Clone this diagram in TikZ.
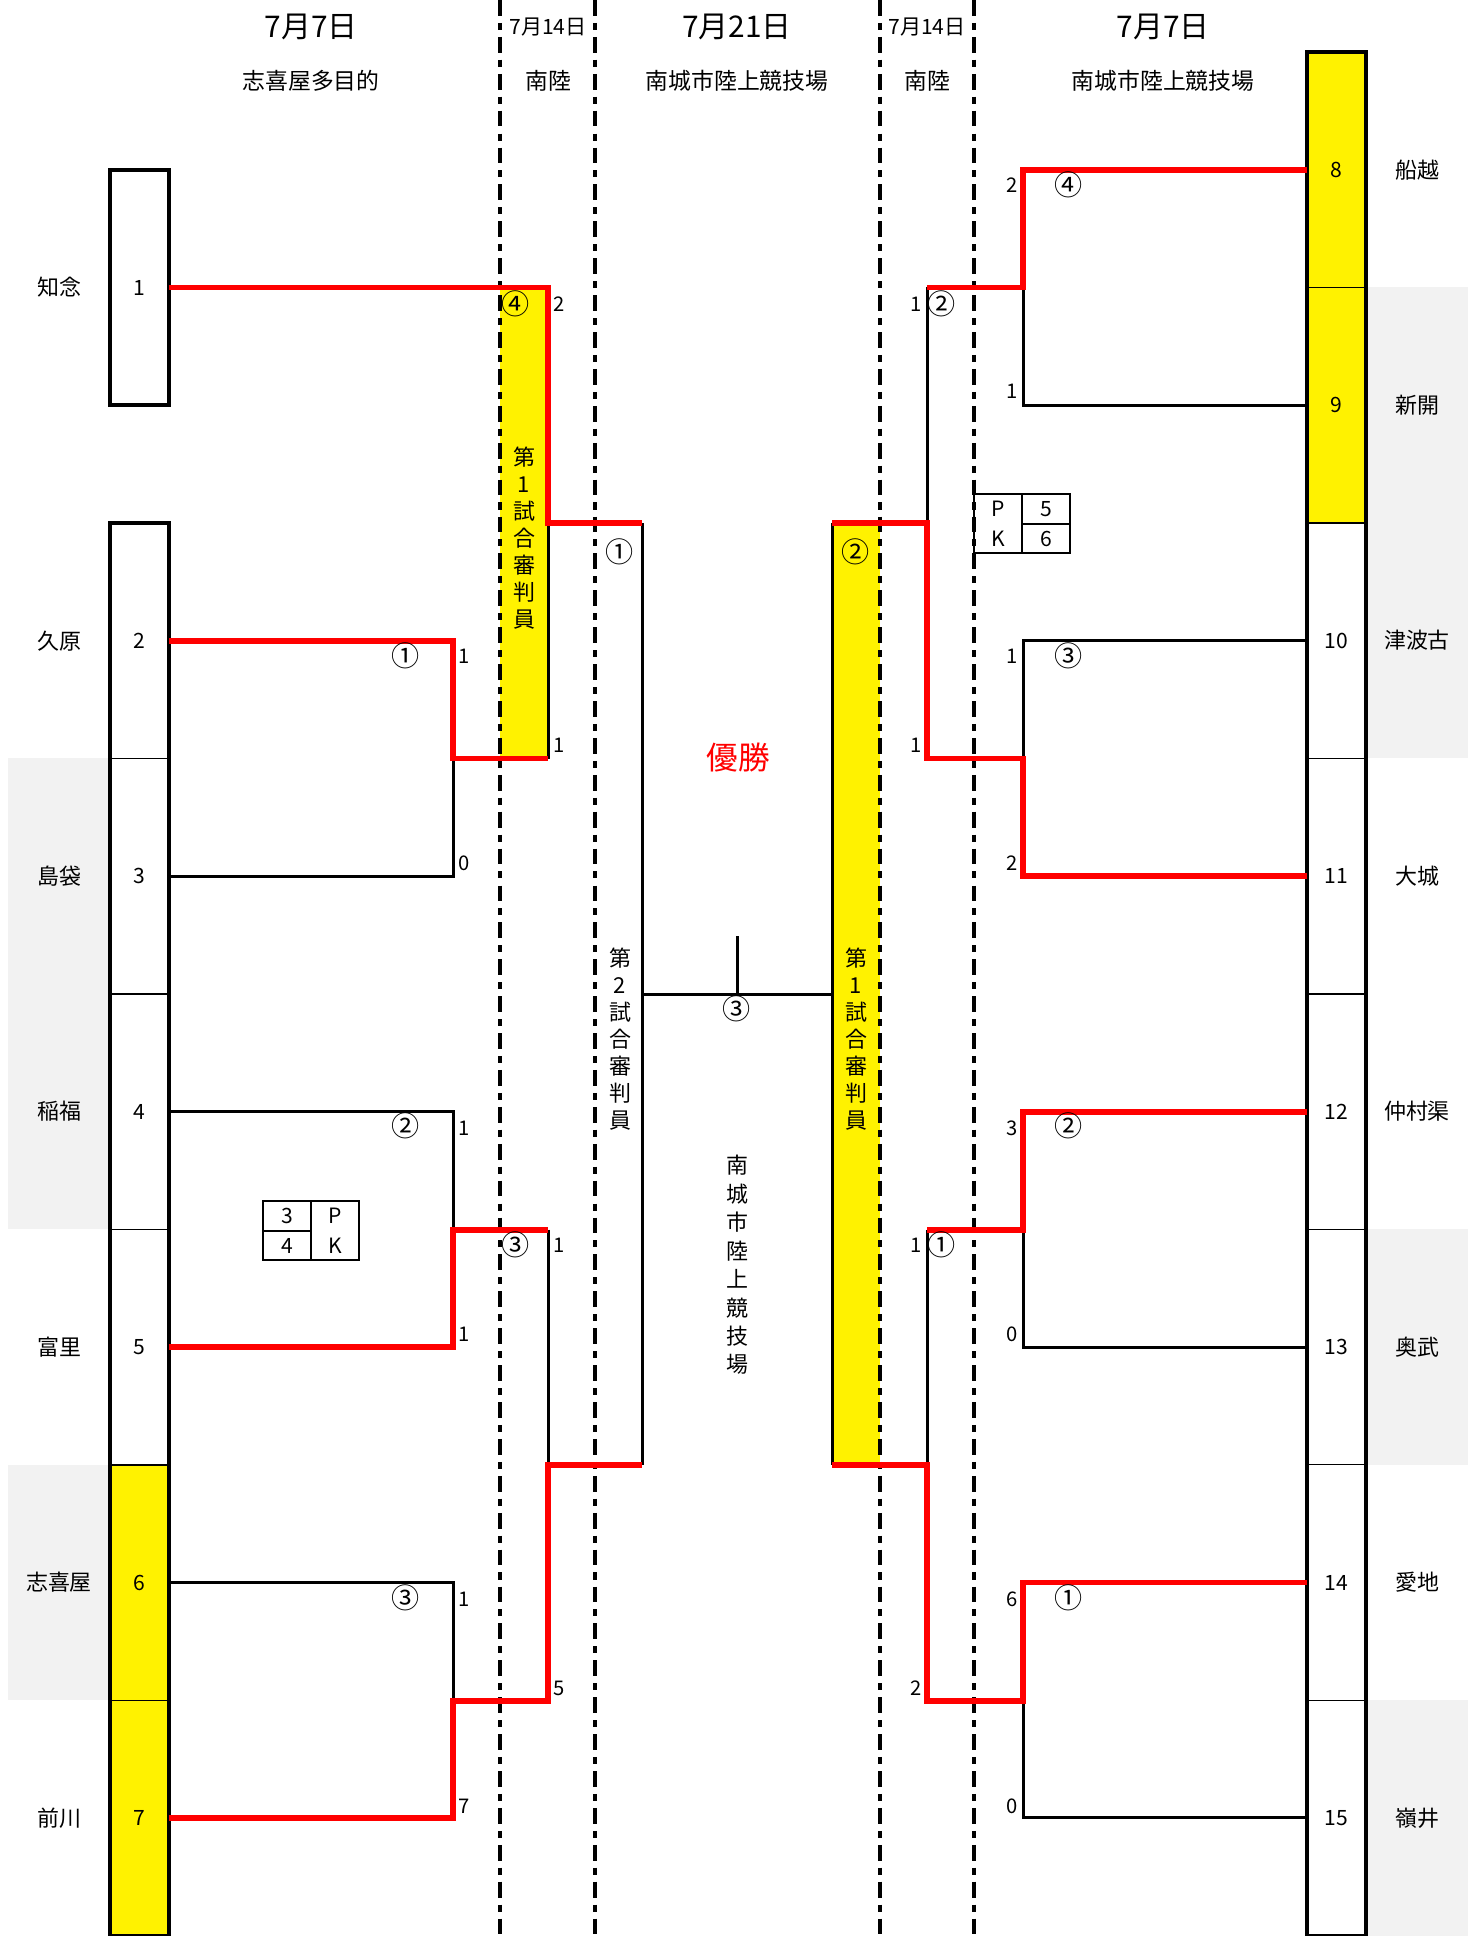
\documentclass[tikz,border=0pt]{standalone}
\usepackage{fontspec}
\setmainfont{Noto Sans CJK JP}
\usetikzlibrary{positioning}
\definecolor{bandgrey}{HTML}{F2F2F2}

\begin{document}
\begin{tikzpicture}[
  x=0.02cm, y=-0.02cm,
  every node/.style={inner sep=0pt, outer sep=0pt},
  seed/.style={draw, line width=0.8pt, minimum width=1.18cm, minimum height=4.71cm,
    font=\fontsize{12}{14}\selectfont},
  hilite/.style={seed, fill=yellow},
  club/.style={minimum width=2.04cm, minimum height=4.71cm, font=\fontsize{12.5}{15}\selectfont},
  greyband/.style={club, fill=bandgrey},
  frame/.style={line width=2.2pt},
  lose/.style={line width=1.7pt},
  win/.style={line width=3.4pt, red},
  sep/.style={line width=2pt, dash pattern=on 9pt off 4pt on 4pt off 4pt},
  score/.style={font=\fontsize{11.5}{13}\selectfont},
  gameno/.style={font=\fontsize{16}{18}\selectfont},
  day/.style={font=\fontsize{17}{20}\selectfont},
  venue/.style={font=\fontsize{13}{15}\selectfont},
  upright/.style={align=center, font=\fontsize{12.5}{15.3}\selectfont},
  pkcell/.style={draw, line width=1.4pt, minimum width=0.96cm, minimum height=0.59cm,
    font=\fontsize{12}{17}\selectfont}
]
  \useasboundingbox[fill=white] (0,0) rectangle (1477,1936);

  % headings
  \node[day] (hd1) at (311,27) {7月7日};
  \node[venue] (hv1) at (311,81) {志喜屋多目的};
  \node[font=\fontsize{12}{14}\selectfont] (hd2) at (548,27) {7月14日};
  \node[venue] (hv2) at (548,81) {南陸};
  \node[day] (hd3) at (737,27) {7月21日};
  \node[venue] (hv3) at (737,81) {南城市陸上競技場};
  \node[font=\fontsize{12}{14}\selectfont] (hd4) at (927,27) {7月14日};
  \node[venue] (hv4) at (927,81) {南陸};
  \node[day] (hd5) at (1163,27) {7月7日};
  \node[venue] (hv5) at (1163,81) {南城市陸上競技場};

  % referee columns
  \fill[yellow] (500,287.5) rectangle (548,758.5);
  \fill[yellow] (832,523) rectangle (880,1465);

  % left seeds
  \node[seed] (t1) at (139.5,287.5) {1};
  \node[seed] (t2) at (139.5,640.75) {2};
  \node[seed,below=0pt of t2] (t3) {3};
  \node[seed,below=0pt of t3] (t4) {4};
  \node[seed,below=0pt of t4] (t5) {5};
  \node[hilite,below=0pt of t5] (t6) {6};
  \node[hilite,below=0pt of t6] (t7) {7};
  \node[club,left=0pt of t1] (n1) {知念};
  \node[club,left=0pt of t2] (n2) {久原};
  \node[greyband,left=0pt of t3] (n3) {島袋};
  \node[greyband,left=0pt of t4] (n4) {稲福};
  \node[club,left=0pt of t5] (n5) {富里};
  \node[greyband,left=0pt of t6] (n6) {志喜屋};
  \node[club,left=0pt of t7] (n7) {前川};
  \draw[frame] (t1.north west) rectangle (t1.south east);
  \draw[frame] (t2.north west) rectangle (t7.south east);

  % right seeds
  \node[hilite] (t8) at (1336.5,169.75) {8};
  \node[hilite,below=0pt of t8] (t9) {9};
  \node[seed,below=0pt of t9] (t10) {10};
  \node[seed,below=0pt of t10] (t11) {11};
  \node[seed,below=0pt of t11] (t12) {12};
  \node[seed,below=0pt of t12] (t13) {13};
  \node[seed,below=0pt of t13] (t14) {14};
  \node[seed,below=0pt of t14] (t15) {15};
  \node[club,right=0pt of t8] (n8) {船越};
  \node[greyband,right=0pt of t9] (n9) {新開};
  \node[greyband,right=0pt of t10] (n10) {津波古};
  \node[club,right=0pt of t11] (n11) {大城};
  \node[club,right=0pt of t12] (n12) {仲村渠};
  \node[greyband,right=0pt of t13] (n13) {奥武};
  \node[club,right=0pt of t14] (n14) {愛地};
  \node[greyband,right=0pt of t15] (n15) {嶺井};
  \draw[frame] (t8.north west) rectangle (t15.south east);

  % day separators
  \draw[sep] (500,0) -- (500,1936);
  \draw[sep] (595,0) -- (595,1936);
  \draw[sep] (880,0) -- (880,1936);
  \draw[sep] (974,0) -- (974,1936);

  % match points
  \coordinate (a1) at (453,758.5);
  \coordinate (a2) at (453,1229.5);
  \coordinate (a3) at (453,1700.5);
  \coordinate (p4top) at (548,287.5);
  \coordinate (p4bot) at (548,758.5);
  \coordinate (p3top) at (548,1229.5);
  \coordinate (p3bot) at (548,1700.5);
  \coordinate (s1top) at (642,523);
  \coordinate (s1bot) at (642,1465);
  \coordinate (c4) at (1023,287.5);
  \coordinate (c3) at (1023,758.5);
  \coordinate (c2) at (1023,1229.5);
  \coordinate (c1) at (1023,1700.5);
  \coordinate (q2top) at (927,287.5);
  \coordinate (q2bot) at (927,758.5);
  \coordinate (q1top) at (927,1229.5);
  \coordinate (q1bot) at (927,1700.5);
  \coordinate (s2top) at (832,523);
  \coordinate (s2bot) at (832,1465);
  \coordinate (fl) at (642,994);
  \coordinate (fr) at (832,994);
  \coordinate (cup) at (737,936);

  % losing sides
  \draw[lose] (t3.east) -| (a1);
  \draw[lose] (t4.east) -| (a2);
  \draw[lose] (t6.east) -| (a3);
  \draw[lose] (p4top) -- (p4bot);
  \draw[lose] (p3top) -- (p3bot);
  \draw[lose] (s1top) -- (s1bot);
  \draw[lose] (t9.west) -| (c4);
  \draw[lose] (t10.west) -| (c3);
  \draw[lose] (t13.west) -| (c2);
  \draw[lose] (t15.west) -| (c1);
  \draw[lose] (q2top) -- (q2bot);
  \draw[lose] (q1top) -- (q1bot);
  \draw[lose] (s2top) -- (s2bot);
  \draw[lose] (fl) -- (fr);
  \draw[lose] (cup) -- (cup |- fl);

  % winners
  \draw[win] (t1.east) -- (p4top) |- (s1top);
  \draw[win] (t2.east) -| (a1) -- (p4bot);
  \draw[win] (t5.east) -| (a2) -- (p3top);
  \draw[win] (t7.east) -| (a3) -- (p3bot) |- (s1bot);
  \draw[win] (t8.west) -| (c4) -- (q2top);
  \draw[win] (t11.west) -| (c3) -- (q2bot) |- (s2top);
  \draw[win] (t12.west) -| (c2) -- (q1top);
  \draw[win] (t14.west) -| (c1) -- (q1bot) |- (s2bot);

  % game numbers
  \node[gameno] (g1) at (406,656) {①};
  \node[gameno] (g2) at (406,1126) {②};
  \node[gameno] (g3) at (406,1598) {③};
  \node[gameno] (g4) at (516,304) {④};
  \node[gameno] (g5) at (516,1245) {③};
  \node[gameno] (g6) at (620,552) {①};
  \node[gameno] (g7) at (1069,185) {④};
  \node[gameno] (g8) at (1069,656) {③};
  \node[gameno] (g9) at (1069,1126) {②};
  \node[gameno] (g10) at (1069,1598) {①};
  \node[gameno] (g11) at (942,304) {②};
  \node[gameno] (g12) at (942,1245) {①};
  \node[gameno] (g13) at (856,552) {②};
  \node[gameno] (g14) at (737,1009) {③};

  % scores
  \foreach \v/\y [count=\k] in {1/656,0/863,1/1128,1/1334,1/1599,7/1806}
    \node[score,anchor=west] (lsa\k) at (458,\y) {\v};
  \foreach \v/\y [count=\k] in {2/304,1/745,1/1245,5/1688}
    \node[score,anchor=west] (lsb\k) at (553,\y) {\v};
  \foreach \v/\y [count=\k] in {2/185,1/391,1/656,2/863,3/1128,0/1334,6/1599,0/1806}
    \node[score,anchor=east] (rsa\k) at (1018,\y) {\v};
  \foreach \v/\y [count=\k] in {1/304,1/745,1/1245,2/1688}
    \node[score,anchor=east] (rsb\k) at (922,\y) {\v};

  % PK boxes
  \node[pkcell] (pk3) at (287,1216) {3};
  \node[pkcell] (pk4) at (287,1245.5) {4};
  \node[pkcell,minimum height=1.18cm,align=center] (pkl) at (335,1230.5) {P\\K};
  \node[pkcell,minimum height=1.18cm,align=center] (pkr) at (998,523.5) {P\\K};
  \node[pkcell] (pk5) at (1046,509) {5};
  \node[pkcell] (pk6) at (1046,538.5) {6};

  % vertical texts
  \node[upright] (ref1) at (524,538) {第\\1\\試\\合\\審\\判\\員};
  \node[upright] (ref2) at (620,1039) {第\\2\\試\\合\\審\\判\\員};
  \node[upright] (ref3) at (856,1039) {第\\1\\試\\合\\審\\判\\員};
  \node[upright,font=\fontsize{12.5}{16.2}\selectfont] (site) at (737,1265) {南\\城\\市\\陸\\上\\競\\技\\場};
  \node[red,font=\fontsize{18}{20}\selectfont] (champ) at (738,758) {優勝};
\end{tikzpicture}
\end{document}
